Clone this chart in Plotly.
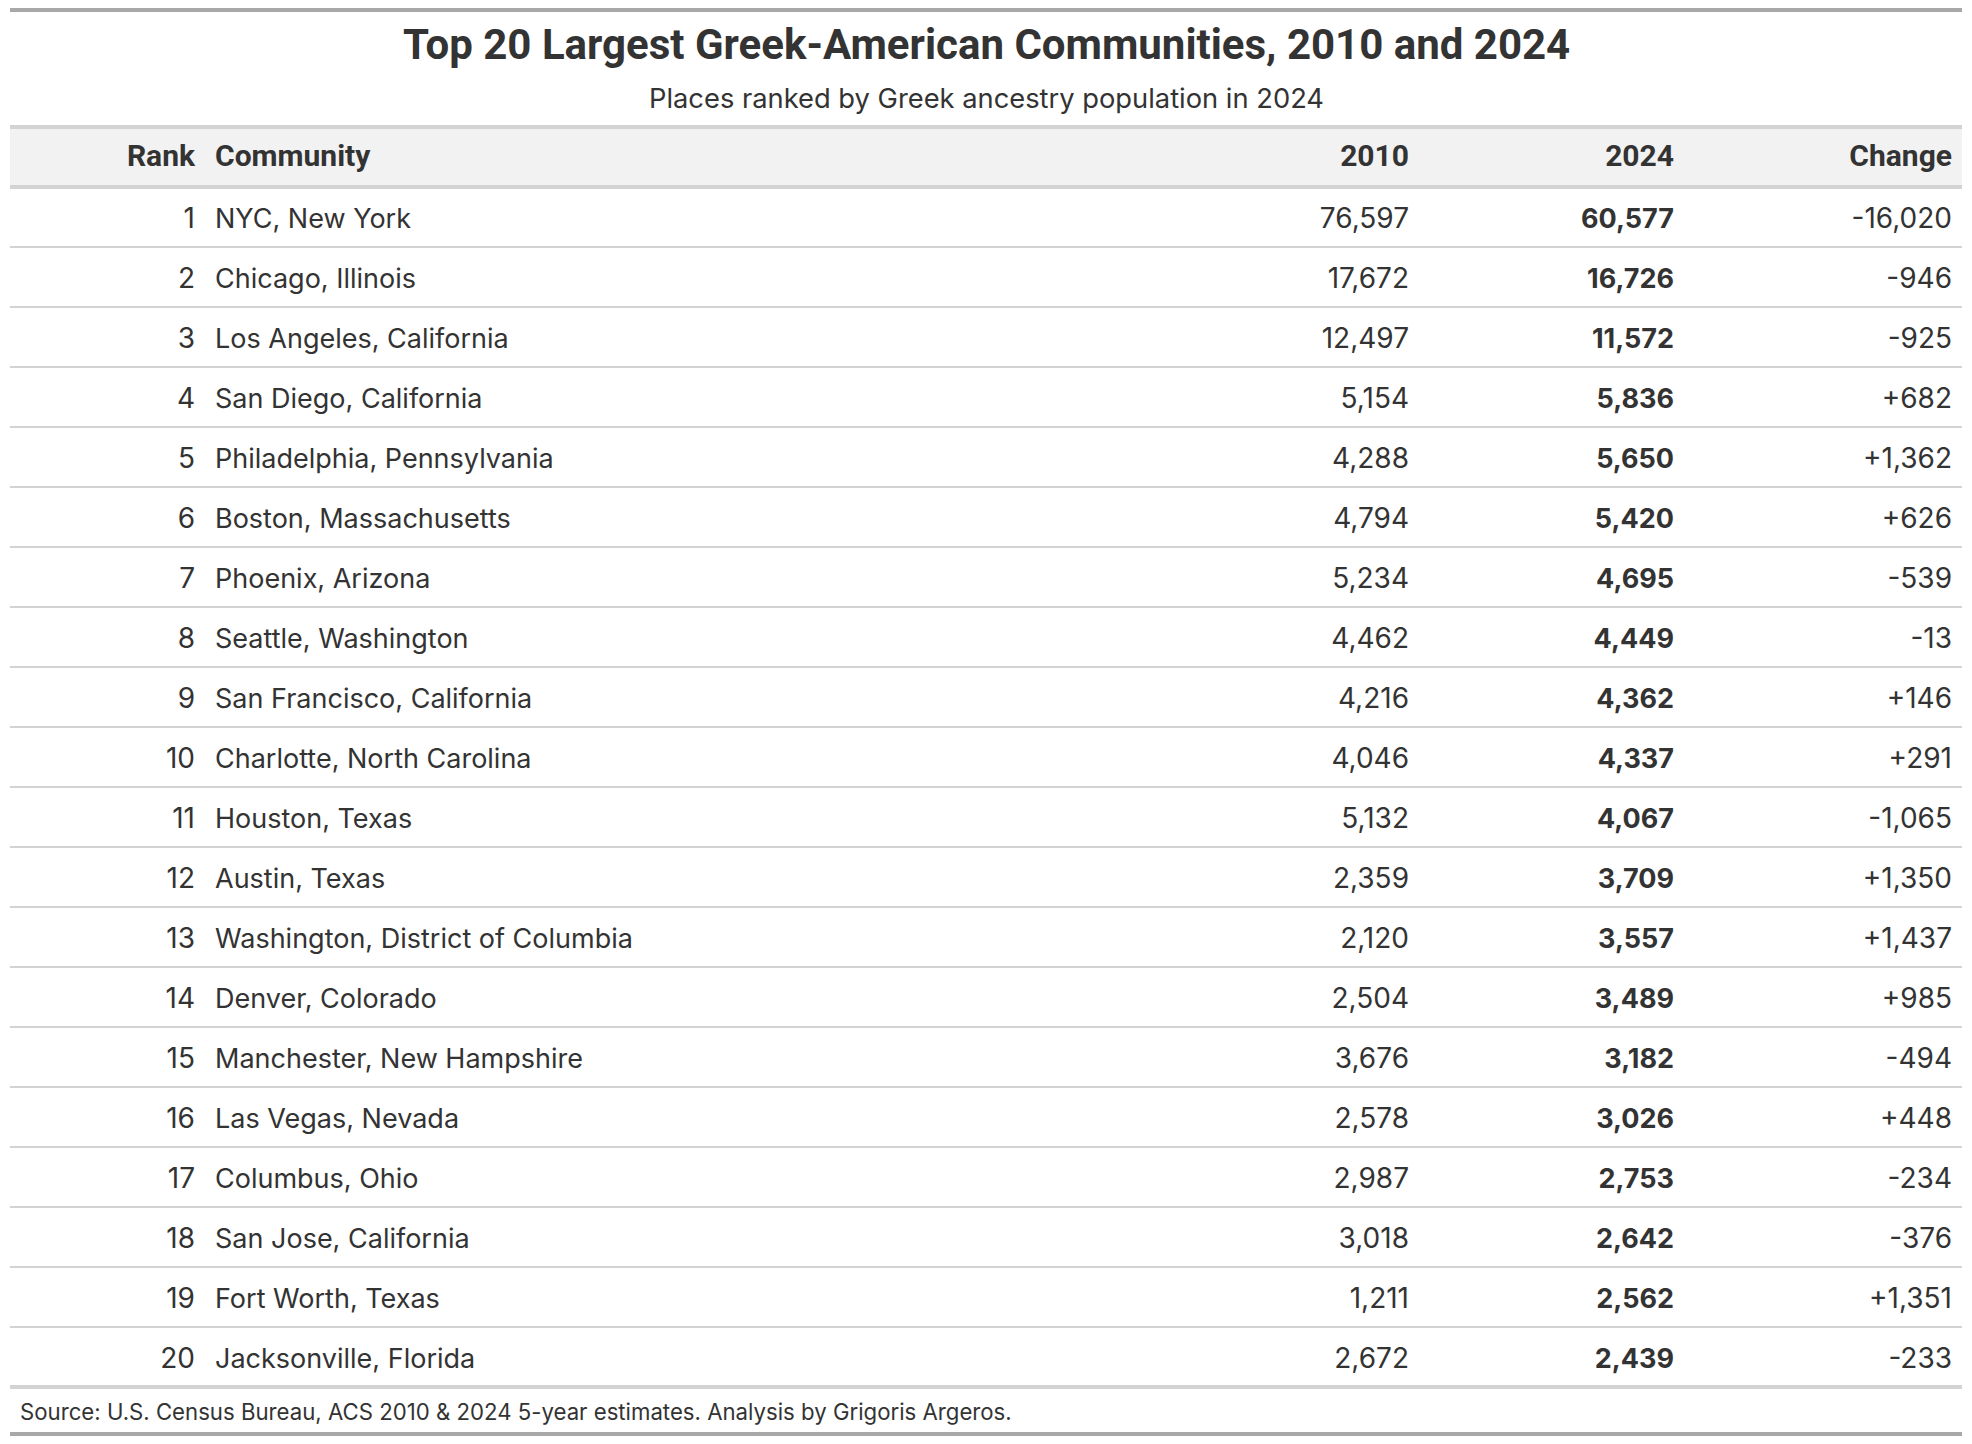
import plotly.graph_objects as go

ranks = list(range(1, 21))
communities = [
    "NYC, New York", "Chicago, Illinois", "Los Angeles, California",
    "San Diego, California", "Philadelphia, Pennsylvania", "Boston, Massachusetts",
    "Phoenix, Arizona", "Seattle, Washington", "San Francisco, California",
    "Charlotte, North Carolina", "Houston, Texas", "Austin, Texas",
    "Washington, District of Columbia", "Denver, Colorado", "Manchester, New Hampshire",
    "Las Vegas, Nevada", "Columbus, Ohio", "San Jose, California",
    "Fort Worth, Texas", "Jacksonville, Florida",
]
pop_2010 = [76597, 17672, 12497, 5154, 4288, 4794, 5234, 4462, 4216, 4046,
            5132, 2359, 2120, 2504, 3676, 2578, 2987, 3018, 1211, 2672]
pop_2024 = [60577, 16726, 11572, 5836, 5650, 5420, 4695, 4449, 4362, 4337,
            4067, 3709, 3557, 3489, 3182, 3026, 2753, 2642, 2562, 2439]
change = [-16020, -946, -925, 682, 1362, 626, -539, -13, 146, 291,
          -1065, 1350, 1437, 985, -494, 448, -234, -376, 1351, -233]
headers = ["Rank", "Community", "2010", "2024", "Change"]

TITLE = "Top 20 Largest Greek-American Communities, 2010 and 2024"
SUBTITLE = "Places ranked by Greek ancestry population in 2024"
SOURCE = "Source: U.S. Census Bureau, ACS 2010 & 2024 5-year estimates. Analysis by Grigoris Argeros."

# Layout: x axis in screen pixels, y axis in table rows.
# The page body has an 8px margin, so the figure starts at (8, 8) on screen.
PAGE_W, PAGE_H = 1972, 1444
OFF = 8
W, H = PAGE_W - 2 * OFF, PAGE_H - 2 * OFF
ROW_PX = 60
ROW0_PX = 157          # screen y of the header row centre
TEXT_DY = 0.065        # nudge text down a little so it sits centred in the row
LEFT, RIGHT = 10, 1962
TEXT = "#333333"
HEAD_FONT = "Roboto"
BODY_FONT = "Inter"

col_x = {"Rank": 195, "Community": 215, "2010": 1409, "2024": 1674, "Change": 1952}
col_pos = {"Rank": "middle left", "Community": "middle right", "2010": "middle left",
           "2024": "middle left", "Change": "middle left"}
col_size = {"Rank": 28, "Community": 27, "2010": 28, "2024": 27, "Change": 28}


def px_to_row(p):
    return (p - ROW0_PX) / ROW_PX


n = len(ranks)
rows = list(range(1, n + 1))

columns = {
    "Rank": [str(r) for r in ranks],
    "Community": communities,
    "2010": [f"{v:,}" for v in pop_2010],
    "2024": [f"{v:,}" for v in pop_2024],
    "Change": [f"{v:+,}" for v in change],
}

fig = go.Figure()

# Header row fill
fig.add_shape(type="rect", xref="x", yref="y", x0=LEFT, x1=RIGHT, y0=-0.5, y1=0.5,
              fillcolor="#F2F2F2", line_width=0, layer="below")

for name in headers:
    # header label
    fig.add_trace(go.Scatter(
        x=[col_x[name]], y=[0.02], mode="text", text=[name],
        textposition=col_pos[name],
        textfont=dict(family=HEAD_FONT, size=30, color=TEXT, weight="bold"),
        hoverinfo="skip", showlegend=False,
    ))
    # body cells
    fig.add_trace(go.Scatter(
        x=[col_x[name]] * n, y=[r + TEXT_DY for r in rows], mode="text",
        text=columns[name], textposition=col_pos[name],
        textfont=dict(family=BODY_FONT, size=col_size[name], color=TEXT,
                      weight="bold" if name == "2024" else "normal"),
        hoverinfo="skip", showlegend=False,
    ))

# Row separators
for r in rows[:-1]:
    fig.add_shape(type="line", xref="x", yref="y", x0=LEFT, x1=RIGHT, y0=r + 0.5, y1=r + 0.5,
                  line=dict(color="#D3D3D3", width=2))

# Header and table body borders
for yy in (-0.5, 0.5, n + 0.5):
    fig.add_shape(type="line", xref="x", yref="y", x0=LEFT, x1=RIGHT, y0=yy, y1=yy,
                  line=dict(color="#D3D3D3", width=4))

# Outer top and bottom borders
for p in (10, 1434):
    fig.add_shape(type="line", xref="x", yref="y", x0=LEFT, x1=RIGHT,
                  y0=px_to_row(p), y1=px_to_row(p),
                  line=dict(color="#A8A8A8", width=4))

# Title, subtitle and source note
fig.add_annotation(x=PAGE_W / 2, y=px_to_row(44), xref="x", yref="y", text=f"<b>{TITLE}</b>",
                   showarrow=False, xanchor="center", yanchor="middle",
                   font=dict(family=HEAD_FONT, size=42, color=TEXT))
fig.add_annotation(x=PAGE_W / 2, y=px_to_row(98), xref="x", yref="y", text=SUBTITLE,
                   showarrow=False, xanchor="center", yanchor="middle",
                   font=dict(family=BODY_FONT, size=27.3, color=TEXT))
fig.add_annotation(x=18, y=px_to_row(1411), xref="x", yref="y", text=SOURCE,
                   showarrow=False, xanchor="left", yanchor="middle",
                   font=dict(family=BODY_FONT, size=22.2, color=TEXT))

fig.update_xaxes(range=[OFF, OFF + W], visible=False, fixedrange=True)
fig.update_yaxes(range=[px_to_row(OFF + H), px_to_row(OFF)], visible=False, fixedrange=True)
fig.update_layout(
    width=W, height=H,
    margin=dict(l=0, r=0, t=0, b=0),
    paper_bgcolor="white", plot_bgcolor="white",
    showlegend=False,
)

fig.write_html("out.html", config={"displayModeBar": False})
